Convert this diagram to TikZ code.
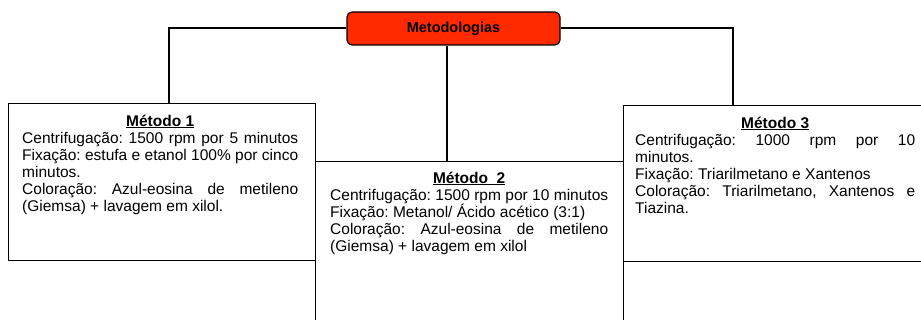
\documentclass[tikz,border=0pt]{standalone}
\usepackage{fontspec}
\setmainfont{Liberation Sans}
\usetikzlibrary{positioning}
\definecolor{vermelho}{HTML}{FF2A00}
\newcommand{\titulo}[1]{\makebox[\linewidth]{\fontsize{15.5}{17}\selectfont\underline{\textbf{#1}}}}

\begin{document}
\begin{tikzpicture}[x=1pt,y=-1pt]
		\useasboundingbox (0,0) rectangle (921,320);
		\tikzset{caixa/.style = {draw, line width=1.2pt, fill=white, anchor=north west, inner sep=0pt},
			texto/.style = {inner sep=0pt, align=justify, font=\fontsize{15.5}{17}\selectfont\frenchspacing},
			ligacao/.style = {line width=2pt}}
		\node[draw, line width=1.2pt, fill=vermelho, rounded corners=5pt, minimum width=213pt,
			minimum height=33pt, font=\fontsize{14.5}{14.5}\selectfont\bfseries] (meto) at (453.5,28.5) {Metodologias};
		\node[caixa, minimum width=307pt, minimum height=157pt] (m1) at (8,103) {};
		\node[caixa, minimum width=310pt, minimum height=156pt] (m3) at (623,105) {};
		\node[caixa, minimum width=308pt, minimum height=180pt] (m2) at (315,161) {};
		% ligacoes
		\draw[ligacao] (meto.west) -| ([xshift=6.5pt]m1.north);
		\draw[ligacao] (meto.east) -| ([xshift=-46pt]m3.north);
		\coordinate (c2) at ([xshift=-6.5pt]meto.south);
		\draw[ligacao] (c2) -- (c2 |- m2.north);
		% textos
		\node[texto, text width=276pt, below right=11.5pt and 14pt of m1.north west] (t1) {\titulo{Método 1}\\
			Centrifugação: 1500 rpm por 5 minutos\linebreak
			Fixação: estufa e etanol 100\% por cinco\linebreak
			minutos.\\
			Coloração: Azul-eosina de metileno\linebreak
			(Giemsa) + lavagem em xilol.};
		\node[texto, text width=278pt, below right=10.5pt and 15pt of m2.north west] (t2) {\titulo{Método~~2}\\
			Centrifugação: 1500 rpm por 10 minutos\linebreak
			Fixação: Metanol/ Ácido acético (3:1)\\
			Coloração: Azul-eosina de metileno\linebreak
			(Giemsa) + lavagem em xilol};
		\node[texto, text width=280pt, below right=11.5pt and 12pt of m3.north west] (t3) {\titulo{Método 3}\\
			Centrifugação: 1000 rpm por 10\linebreak
			minutos.\\
			Fixação: Triarilmetano e Xantenos\\
			Coloração: Triarilmetano, Xantenos e\linebreak
			Tiazina.};
\end{tikzpicture}
\end{document}
